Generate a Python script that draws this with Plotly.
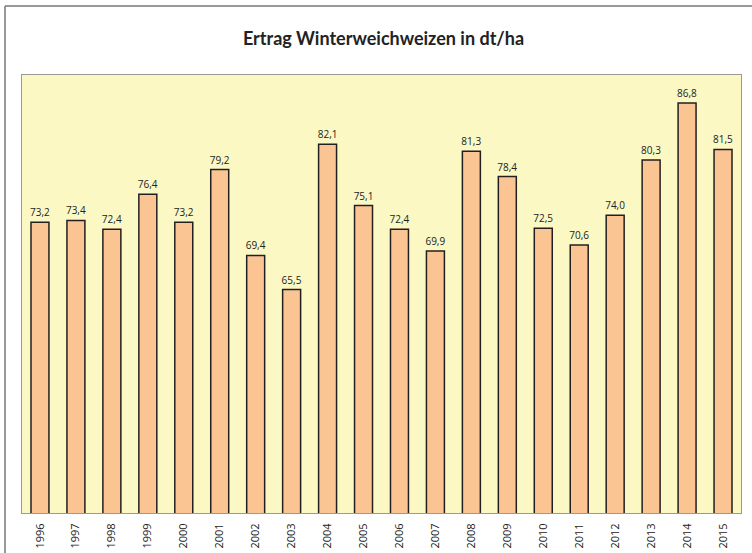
import plotly.graph_objects as go

years = [str(y) for y in range(1996, 2016)]
values = [73.2, 73.4, 72.4, 76.4, 73.2, 79.2, 69.4, 65.5, 82.1, 75.1,
          72.4, 69.9, 81.3, 78.4, 72.5, 70.6, 74.0, 80.3, 86.8, 81.5]
labels = [f"{v:.1f}".replace(".", ",") for v in values]

fig = go.Figure()
fig.add_trace(go.Bar(
    x=years, y=values, width=0.5,
    marker=dict(color="#FBC493", line=dict(color="#231F20", width=1.5)),
    text=labels, textposition="outside", cliponaxis=False,
    constraintext="none", textangle=0,
    textfont=dict(family="Open Sans, sans-serif", size=10, color="#222222"),
))

fig.update_layout(
    width=752, height=553,
    margin=dict(l=22, r=11, t=75, b=40),
    paper_bgcolor="white",
    plot_bgcolor="#FBF8C4",
    showlegend=False,
    title=dict(text="<b>Ertrag Winterweichweizen in dt/ha</b>",
               x=0.51, xanchor="center", y=0.93, yanchor="middle",
               font=dict(family="Lato, Open Sans, sans-serif", size=18, color="#222222")),
    xaxis=dict(tickangle=-90, showgrid=False, ticks="outside", ticklen=5,
               tickcolor="rgba(0,0,0,0)", showline=True, automargin=False,
               linecolor="#999999", linewidth=1, mirror=True,
               tickfont=dict(family="Open Sans, sans-serif", size=11, color="#222222")),
    yaxis=dict(range=[40, 90], showticklabels=False, showgrid=False, ticks="",
               showline=True, linecolor="#999999", linewidth=1, mirror=True,
               zeroline=False, automargin=False),
    shapes=[
        dict(type="line", xref="paper", yref="paper",
             x0=-17/719, x1=1.2, y0=1 + 69/438, y1=1 + 69/438,
             line=dict(color="#777777", width=1.5)),
        dict(type="line", xref="paper", yref="paper",
             x0=-17/719, x1=-17/719, y0=1 + 69/438, y1=-0.2,
             line=dict(color="#777777", width=1.5)),
    ],
)

fig.write_html("out.html", config={"displayModeBar": False},
               post_script="document.body.style.margin='0';document.body.style.overflow='hidden';")
